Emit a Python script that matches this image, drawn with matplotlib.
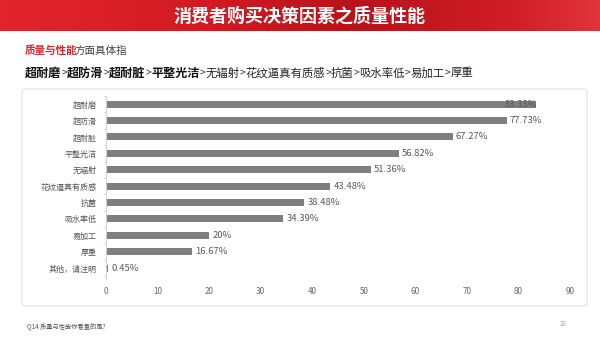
import numpy as np
import matplotlib
matplotlib.use("Agg")
import matplotlib.pyplot as plt
from matplotlib.patches import FancyBboxPatch
from matplotlib.colors import LinearSegmentedColormap

plt.rcParams['font.family'] = ['Noto Sans CJK SC', 'DejaVu Sans']

categories = ["超耐磨", "超防滑", "超耐脏", "平整光洁", "无辐射", "花纹逼真有质感",
              "抗菌", "吸水率低", "易加工", "厚重", "其他，请注明"]
values = [83.33, 77.73, 67.27, 56.82, 51.36, 43.48, 38.48, 34.39, 20, 16.67, 0.45]
value_labels = ["83.33%", "77.73%", "67.27%", "56.82%", "51.36%", "43.48%",
                "38.48%", "34.39%", "20%", "16.67%", "0.45%"]
xticks = [0, 10, 20, 30, 40, 50, 60, 70, 80, 90]

title = "消费者购买决策因素之质量性能"
sub_red = "质量与性能"
sub_rest = "方面具体指"
rank_bold = ["超耐磨", "超防滑", "超耐脏", "平整光洁"]
rank_normal = ["无辐射", "花纹逼真有质感", "抗菌", "吸水率低", "易加工", "厚重"]
footer = "Q14 质量与性能你看重的是?"
page_no = "20"

W, H = 600, 338
fig = plt.figure(figsize=(W / 100, H / 100), dpi=100)
fig.patch.set_facecolor("white")

# header band with gradient
hax = fig.add_axes([0, 1 - 31 / H, 1, 31 / H])
cmap = LinearSegmentedColormap.from_list(
    "hdr", [(0, "#e2252c"), (0.35, "#d11a22"), (0.6, "#b9121a"), (0.85, "#cf1e27"), (1, "#e0333a")])
grad = np.linspace(0, 1, 300)[None, :]
hax.imshow(grad, aspect="auto", cmap=cmap, extent=[0, 1, 0, 1])
hax.set_axis_off()
fig.text(0.5, 1 - 16 / H, title, color="white", fontsize=13, fontweight="bold",
         ha="center", va="center")

# panel border
panel = FancyBboxPatch((22 / W, 1 - 306 / H), 565 / W, (306 - 89) / H,
                       boxstyle="round,pad=0,rounding_size=0.008",
                       transform=fig.transFigure, facecolor="white",
                       edgecolor="#e2e2e2", linewidth=0.8, zorder=-5)
fig.patches.append(panel)

renderer = fig.canvas.get_renderer()


def run_text(x_px, y_px, segments, tighten=0.0):
    x = x_px
    for s, kw in segments:
        t = fig.text(x / W, 1 - y_px / H, s, va="center", ha="left", **kw)
        bb = t.get_window_extent(renderer=renderer)
        x += bb.width - tighten
    return x


run_text(25, 51, [(sub_red, dict(color="#d9262e", fontsize=7.6, fontweight="bold")),
                  (sub_rest, dict(color="#404040", fontsize=7.6))], tighten=2.5)

segs = []
for i, s in enumerate(rank_bold):
    segs.append((s, dict(color="#111111", fontsize=8.7, fontweight="bold")))
    segs.append((">", dict(color="#333333", fontsize=7.5)))
for i, s in enumerate(rank_normal):
    segs.append((s, dict(color="#222222", fontsize=8.2)))
    if i < len(rank_normal) - 1:
        segs.append((">", dict(color="#333333", fontsize=7.5)))
run_text(25, 73, segs, tighten=0.0)

# chart
ax = fig.add_axes([106 / W, 1 - 279 / H, (570 - 106) / W, (279 - 96) / H], zorder=2)
y = np.arange(len(categories))
ax.barh(y, values, height=0.43, color="#7f7f7f")
ax.set_xlim(0, 90)
ax.set_ylim(10.67, -0.5)
ax.set_xticks(xticks)
ax.set_xticklabels([str(t) for t in xticks], fontsize=5.8, color="#666666")
ax.set_yticks(y)
ax.set_yticklabels(categories, fontsize=5.8, color="#555555")
ax.set_yticks(np.arange(len(categories) + 1) - 0.5, minor=True)
ax.tick_params(axis="y", which="major", length=0, pad=7)
ax.tick_params(axis="y", which="minor", length=2.5, color="#d8d8d8", width=0.6)
ax.tick_params(axis="x", length=0, pad=6)
for s in ["top", "right", "bottom"]:
    ax.spines[s].set_visible(False)
ax.spines["left"].set_color("#d0d0d0")
ax.spines["left"].set_linewidth(0.8)
ax.set_facecolor("none")
for yi, v, lab in zip(y, values, value_labels):
    if v > 80:
        ax.text(v + 0.3, yi, lab, va="center", ha="right", fontsize=6.8, color="#595959")
    else:
        ax.text(v + 0.6, yi, lab, va="center", ha="left", fontsize=6.8, color="#595959")

fig.text(27 / W, 1 - 327 / H, footer, fontsize=4.5, color="#555555", va="center")
fig.text(560 / W, 1 - 324 / H, page_no, fontsize=4.5, color="#aaaaaa", va="center")

fig.savefig("out.png", dpi=100, facecolor="white")
